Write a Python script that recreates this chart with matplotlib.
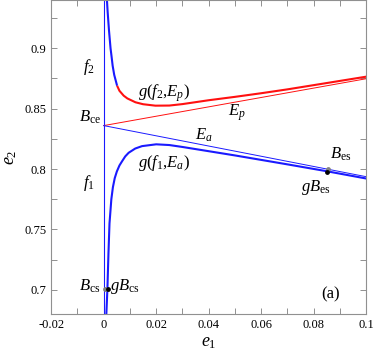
import matplotlib
matplotlib.use("Agg")
import matplotlib.pyplot as plt
from matplotlib.ticker import MultipleLocator, FixedLocator, FixedFormatter

plt.rcParams['font.family'] = ['Liberation Serif', 'DejaVu Serif']
plt.rcParams['mathtext.fontset'] = 'custom'
plt.rcParams['mathtext.rm'] = 'Liberation Serif'
plt.rcParams['mathtext.it'] = 'Liberation Serif:italic'

# vertical bifurcation line f1/f2 at e1 = 0
f_x = [0.0, 0.0]
f_y = [0.68, 0.94]

# straight lines Ep and Ea starting from Bce
ep_x = [0.0, 0.1]
ep_y = [0.836, 0.8748]
ea_x = [0.0, 0.1]
ea_y = [0.836, 0.7937]

# g(f2,Ep): blue part near the vertical line, then red
g2_blue_x = [0.0012, 0.0015, 0.0020, 0.0026, 0.0030, 0.0034, 0.0040, 0.0051]
g2_blue_y = [0.941, 0.930, 0.915, 0.900, 0.893, 0.8856, 0.878, 0.869]
g2_red_x = [0.0051, 0.0060, 0.0076, 0.0090, 0.0121, 0.0150, 0.0197, 0.025,
            0.030, 0.040, 0.050, 0.060, 0.070, 0.080, 0.090, 0.100]
g2_red_y = [0.869, 0.8648, 0.8608, 0.8585, 0.8553, 0.8537, 0.8525, 0.8526,
            0.8538, 0.8570, 0.8598, 0.8628, 0.8660, 0.8695, 0.8730, 0.8765]

# g(f1,Ea)
g1_x = [0.0010, 0.0014, 0.0018, 0.0022, 0.0029, 0.0035, 0.0042, 0.0050, 0.0060,
        0.0070, 0.0082, 0.0095, 0.0120, 0.0146, 0.0200, 0.0250, 0.0300, 0.0400,
        0.0500, 0.0600, 0.0700, 0.0840, 0.1000]
g1_y = [0.680, 0.7005, 0.730, 0.755, 0.775, 0.785, 0.7925, 0.798, 0.803,
        0.8065, 0.8105, 0.8135, 0.8170, 0.8190, 0.8205, 0.8199, 0.8183, 0.8148,
        0.8113, 0.8076, 0.8039, 0.7986, 0.7922]

# special points
grey_pts_x = [0.0003, 0.0856]   # Bcs, Bes
grey_pts_y = [0.7003, 0.8001]
black_pts_x = [0.0017, 0.0852]  # gBcs, gBes
black_pts_y = [0.7005, 0.7977]

x_ticks = [-0.02, 0.0, 0.02, 0.04, 0.06, 0.08, 0.1]
x_labels = ['-0.02', '0', '0.02', '0.04', '0.06', '0.08', '0.1']
y_ticks = [0.7, 0.75, 0.8, 0.85, 0.9]
y_labels = ['0.7', '0.75', '0.8', '0.85', '0.9']

blue = '#1a1aff'
red = '#ff1010'

fig = plt.figure(figsize=(3.74, 3.56), dpi=100)
ax = fig.add_axes([0.137, 0.118, 0.842, 0.882])

ax.plot(f_x, f_y, color=blue, lw=0.8)
ax.plot(ep_x, ep_y, color=red, lw=0.7)
ax.plot(ea_x, ea_y, color=blue, lw=0.7)
ax.plot(g2_blue_x, g2_blue_y, color=blue, lw=1.5, solid_capstyle='butt')
ax.plot(g2_red_x, g2_red_y, color=red, lw=1.5, solid_capstyle='butt')
ax.plot(g1_x, g1_y, color=blue, lw=1.5)

ax.scatter(grey_pts_x, grey_pts_y, s=6, color='#808080', zorder=5)
ax.scatter(black_pts_x, black_pts_y, s=6, color='black', zorder=6)

fs = 12
ax.text(-0.0055, 0.8845, r'$f_2$', fontsize=fs, ha='center', va='center')
ax.text(-0.0055, 0.7884, r'$f_1$', fontsize=fs, ha='center', va='center')
ax.text(-0.0052, 0.8425, r'$B_{\mathrm{ce}}$', fontsize=fs, ha='center', va='center')
ax.text(0.0229, 0.8625, r'$g(f_2{,}E_p)$', fontsize=fs, ha='center', va='center')
ax.text(0.0509, 0.8465, r'$E_p$', fontsize=fs, ha='center', va='center')
ax.text(0.0381, 0.8276, r'$E_a$', fontsize=fs, ha='center', va='center')
ax.text(0.0229, 0.8050, r'$g(f_1{,}E_a)$', fontsize=fs, ha='center', va='center')
ax.text(0.0905, 0.8124, r'$B_{\mathrm{es}}$', fontsize=fs, ha='center', va='center')
ax.text(0.0807, 0.7848, r'$gB_{\mathrm{es}}$', fontsize=fs, ha='center', va='center')
ax.text(-0.0052, 0.7028, r'$B_{\mathrm{cs}}$', fontsize=fs, ha='center', va='center')
ax.text(0.0079, 0.7028, r'$gB_{\mathrm{cs}}$', fontsize=fs, ha='center', va='center')
ax.text(0.0864, 0.6964, '(a)', fontsize=12, ha='center', va='center')

ax.set_xlim(-0.02, 0.1)
ax.set_ylim(0.68, 0.94)
ax.xaxis.set_major_locator(FixedLocator(x_ticks))
ax.xaxis.set_major_formatter(FixedFormatter(x_labels))
ax.yaxis.set_major_locator(FixedLocator(y_ticks))
ax.yaxis.set_major_formatter(FixedFormatter(y_labels))
ax.xaxis.set_minor_locator(MultipleLocator(0.01))
ax.yaxis.set_minor_locator(MultipleLocator(0.025))
ax.tick_params(which='both', direction='in', top=True, right=True,
               color='#909090', labelsize=9, width=0.7)
ax.tick_params(which='major', length=4)
ax.tick_params(which='minor', length=4)
for s in ax.spines.values():
    s.set_color('#909090')
    s.set_linewidth(0.8)

ax.set_xlabel(r'$e_1$', fontsize=13, labelpad=2)
ax.set_ylabel(r'$e_2$', fontsize=13, labelpad=4)

fig.savefig('out.png', dpi=100)
